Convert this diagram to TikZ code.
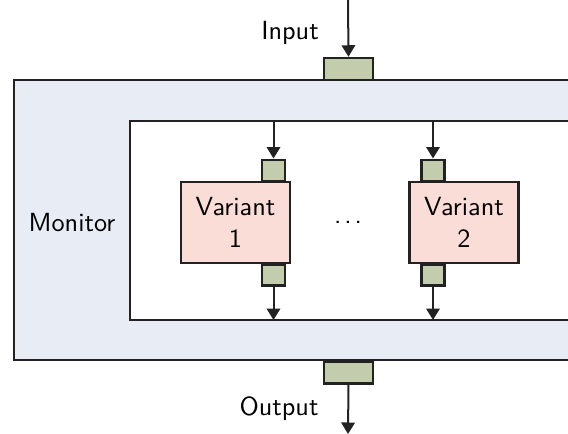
\documentclass[tikz,border=0pt]{standalone}
\usetikzlibrary{arrows.meta}
\definecolor{monfill}{HTML}{E8ECF5}
\definecolor{portfill}{HTML}{C3CDAD}
\definecolor{varfill}{HTML}{FBDDD8}
\definecolor{linec}{HTML}{222222}
\tikzset{
  frame/.style={draw=linec, line width=1pt},
  port/.style={draw=linec, line width=1pt, fill=portfill, inner sep=0pt, minimum width=9.2pt, minimum height=8.4pt},
  bigport/.style={draw=linec, line width=1pt, fill=portfill, inner sep=0pt, minimum width=19.6pt, minimum height=8.8pt},
  variant/.style={draw=linec, line width=1pt, fill=varfill, inner sep=0pt, minimum width=43.6pt, minimum height=32.4pt, align=center, font=\sffamily\fontsize{10.5}{13}\selectfont},
  lbl/.style={font=\sffamily\fontsize{10.5}{13}\selectfont, inner sep=0pt},
  flow/.style={draw=linec, line width=0.8pt, -{Triangle[length=4.6pt,width=5.4pt]}}
}
\begin{document}
\begin{tikzpicture}[x=0.4pt,y=-0.4pt]
\useasboundingbox (0,0) rectangle (568,434);
\clip (0,0) rectangle (568,434);
% monitor frame
\fill[monfill] (14,80) rectangle (600,360);
\draw[frame] (600,80) -- (14,80) -- (14,360) -- (600,360);
\fill[white] (130,121) rectangle (600,320);
\draw[frame] (600,121) -- (130,121) -- (130,320) -- (600,320);
% outer ports
\node[bigport] (inport) at (348.5,69) {};
\node[bigport] (outport) at (348.5,372.5) {};
\coordinate (intop) at (348,0);
\coordinate (outbot) at (348,434);
\draw[flow] (intop) -- (inport.north);
\draw[flow] (outport.south) -- (outbot);
\node[lbl] (inlbl) at (290,33) {Input};
\node[lbl] (outlbl) at (279,409) {Output};
\node[lbl] (monlbl) at (72,223) {Monitor};
\node[lbl] (dots) at (348,222) {.\kern1.2pt.\kern1.2pt.};
% variants
\node[variant] (v1) at (235.5,222.5) {Variant\\1};
\node[variant] (v2) at (464,222.5) {Variant\\2};
\node[port, anchor=south] (v1in) at (273.5,182) {};
\node[port, anchor=north] (v1out) at (273.5,263) {};
\node[port, anchor=south] (v2in) at (433,182) {};
\node[port, anchor=north] (v2out) at (433,263) {};
\coordinate (v1a) at (273.5,121);
\coordinate (v1b) at (273.5,320);
\coordinate (v2a) at (433,121);
\coordinate (v2b) at (433,320);
\draw[flow] (v1a) -- (v1in.north);
\draw[flow] (v1out.south) -- (v1b);
\draw[flow] (v2a) -- (v2in.north);
\draw[flow] (v2out.south) -- (v2b);
\end{tikzpicture}
\end{document}
